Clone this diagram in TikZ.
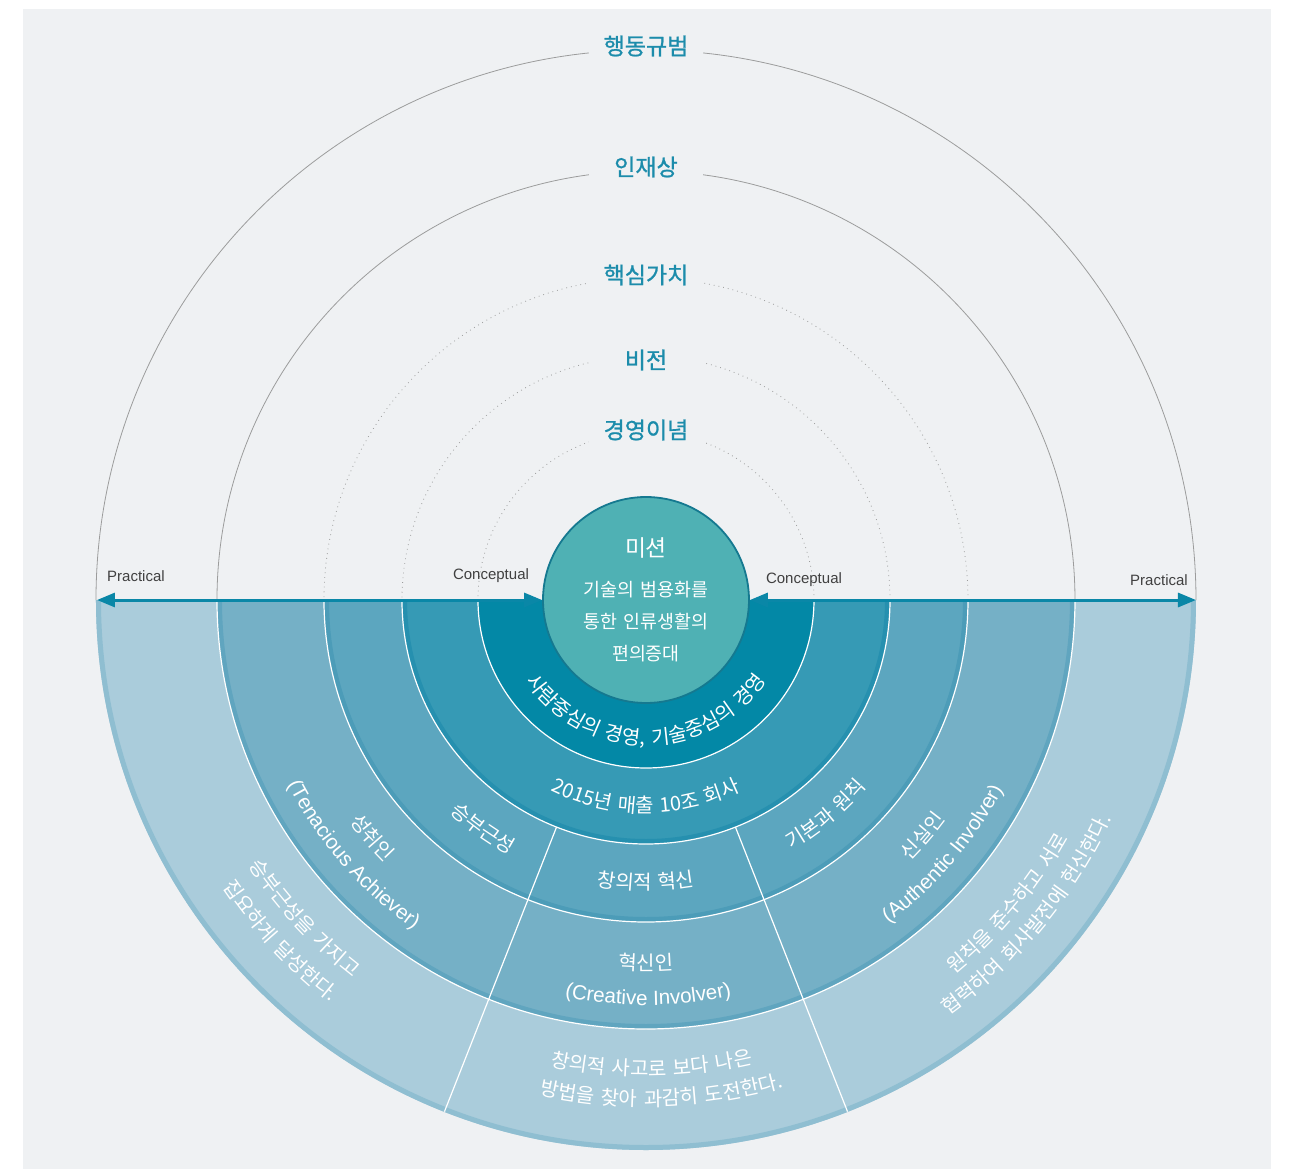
\documentclass[tikz,border=0pt]{standalone}
\usepackage{fontspec}
\setmainfont{Noto Sans CJK KR}
\newfontfamily\latinfont{Liberation Sans}
\newfontfamily\labelfont[FakeBold=1]{Noto Sans CJK KR}
\newfontfamily\ringfont[WordSpace=1.5]{Noto Sans CJK KR}
\usepackage{tikz}
\usetikzlibrary{arrows.meta,decorations.text,positioning}
\usepackage{xcolor}
\definecolor{Paper}{HTML}{EFF1F3}
\definecolor{Tide}{HTML}{0A87A7}
\definecolor{LabelTeal}{HTML}{1C8CAB}
\definecolor{MissionFill}{HTML}{4FB1B4}
\definecolor{MissionLine}{HTML}{157990}
\definecolor{RingA}{HTML}{0388A6}
\definecolor{RingB}{HTML}{369AB5}
\definecolor{RingC}{HTML}{5CA6BF}
\definecolor{RingD}{HTML}{75B0C6}
\definecolor{RingE}{HTML}{AACCDB}
\definecolor{BandB}{HTML}{2690AF}
\definecolor{BandC}{HTML}{4C9CB8}
\definecolor{BandD}{HTML}{60A5BF}
\definecolor{BandE}{HTML}{8FBED1}
\definecolor{ArcGray}{HTML}{9C9C9C}
\definecolor{TextGray}{HTML}{404040}

\newcommand{\ringkr}{\ringfont\fontsize{10}{12}\selectfont}
\newcommand{\ringen}{\latinfont\fontsize{10.3}{12}\selectfont}
% text bent along a lower arc: centre angle, baseline radius, font, text
\newcommand{\ringtext}[4]{%
  \path[decorate,decoration={text along path,text align=center,
      text color=white,text={|#3|#4}}]
    ({#1-75}:#2) arc[start angle={#1-75},end angle={#1+75},radius=#2];}

\begin{document}
\begin{tikzpicture}[x=0.5pt,y=0.5pt,
  solidarc/.style={draw=ArcGray,line width=0.4pt},
  dotarc/.style={draw=ArcGray,line width=0.4pt,dotted},
  toplabel/.style={fill=Paper,text=LabelTeal,font=\labelfont\fontsize{11.5}{13}\selectfont,
    minimum width=57pt,inner ysep=2pt},
  axislabel/.style={text=TextGray,font=\latinfont\fontsize{7.5}{9}\selectfont,inner sep=0pt},
  axisarrow/.style={draw=Tide,line width=1.5pt,
    arrows={Triangle[length=9pt,width=7pt]-Triangle[length=9pt,width=7pt]}},
  missioncircle/.style={circle,fill=MissionFill,draw=MissionLine,line width=0.9pt,
    minimum size=103pt,inner sep=0pt,align=center,text=white,
    font=\ringfont\fontsize{9.2}{16}\selectfont},
  ringsplit/.style={draw=white,line width=0.6pt}]
\useasboundingbox (-646,600) rectangle (646,-569);
\fill[Paper] (-623,591) rectangle (625,-569);
%
% upper half: thin arcs with their titles
\draw[solidarc] (550,0) arc[start angle=0,end angle=180,radius=550];
\draw[solidarc] (429,0) arc[start angle=0,end angle=180,radius=429];
\draw[dotarc] (322,0) arc[start angle=0,end angle=180,radius=322];
\draw[dotarc] (244,0) arc[start angle=0,end angle=180,radius=244];
\draw[dotarc] (168,0) arc[start angle=0,end angle=180,radius=168];
\node[toplabel] (lblNorms) at (0,554) {행동규범};
\node[toplabel] (lblTalent) at (0,433) {인재상};
\node[toplabel] (lblValues) at (0,325) {핵심가치};
\node[toplabel] (lblVision) at (0,240) {비전};
\node[toplabel] (lblPhilosophy) at (0,170) {경영이념};
%
% lower half: filled rings, outer one first
\foreach \r/\fc/\bc in {550/RingE/BandE,429/RingD/BandD,322/RingC/BandC,244/RingB/BandB,168/RingA/RingA}{
  \fill[\fc] (-\r,0) arc[start angle=180,end angle=360,radius=\r] -- cycle;
  \draw[\bc,line width=2.5pt] ({-\r+2.5},0) arc[start angle=180,end angle=360,radius={\r-2.5}];
}
\foreach \r in {429,322,244,168}
  \draw[ringsplit] (-\r,0) arc[start angle=180,end angle=360,radius=\r];
\foreach \a in {248.5,291.5}
  \draw[ringsplit] (\a:244) -- (\a:550);
%
% ring texts
\ringtext{270}{145}{\ringkr}{사람중심의 경영, 기술중심의 경영}
\ringtext{270}{213}{\ringkr}{2015년 매출 10조 회사}
\ringtext{234.5}{289}{\ringkr}{승부근성}
\ringtext{270}{290}{\ringkr}{창의적 혁신}
\ringtext{310}{289}{\ringkr}{기본과 원칙}
\ringtext{221}{370}{\ringkr}{성취인}
\ringtext{221}{403}{\ringen}{(Tenacious Achiever)}
\ringtext{270}{370}{\ringkr}{혁신인}
\ringtext{270.3}{405}{\ringen}{(Creative Involver)}
\ringtext{319.5}{371}{\ringkr}{신실인}
\ringtext{319.5}{404}{\ringen}{(Authentic Involver)}
\ringtext{223}{478}{\ringkr}{승부근성을 가지고}
\ringtext{223}{511}{\ringkr}{집요하게 달성한다.}
\ringtext{270.7}{476}{\ringkr}{창의적 사고로 보다 나은}
\ringtext{271.8}{506}{\ringkr}{방법을 찾아 과감히 도전한다.}
\ringtext{320}{485}{\ringkr}{원칙을 준수하고 서로}
\ringtext{320.5}{514}{\ringkr}{협력하여 회사발전에 헌신한다.}
%
% centre and axis
\node[missioncircle] (mission) at (0,0) {{\fontsize{11.4}{13}\selectfont 미션}\\[4pt]기술의 범용화를\\통한 인류생활의\\편의증대};
\coordinate (leftEnd) at (-549,0);
\coordinate (rightEnd) at (550,0);
\draw[axisarrow] (mission.west) -- (leftEnd);
\draw[axisarrow] (mission.east) -- (rightEnd);
\node[axislabel] (pracLeft) at (-510,24) {Practical};
\node[axislabel] (concLeft) at (-155,24) {Conceptual};
\node[axislabel] (concRight) at (158,20) {Conceptual};
\node[axislabel] (pracRight) at (513,20) {Practical};
%
\end{tikzpicture}
\end{document}
